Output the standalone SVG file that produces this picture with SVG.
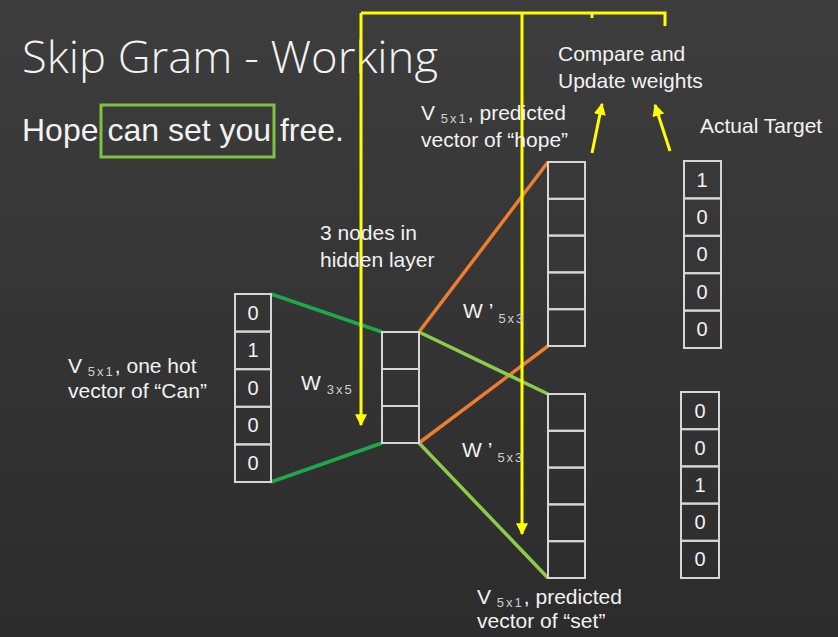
<svg xmlns="http://www.w3.org/2000/svg" width="838" height="637" viewBox="0 0 838 637">
<defs>
<linearGradient id="bg" x1="0" y1="0" x2="0" y2="1">
<stop offset="0" stop-color="#3d3d3d"/>
<stop offset="1" stop-color="#2c2c2c"/>
</linearGradient>
<marker id="ya" viewBox="0 0 10 10" refX="9" refY="5" markerWidth="4" markerHeight="4" orient="auto" markerUnits="strokeWidth">
<path d="M0,0 L10,5 L0,10 z" fill="#ffff00"/>
</marker>
<style>
text{font-family:"Liberation Sans",Arial,sans-serif;fill:#f2f2f2}
.t{font-size:21px}
.sub{font-size:13px;letter-spacing:2px;fill:#cfcfcf}
.d{font-size:20px;text-anchor:middle}
.cell{fill:none;stroke:#d6d6d6;stroke-width:2}
.y{stroke:#ffff00;stroke-width:3;fill:none}
.dg{stroke:#1fa84a;stroke-width:3.5}
.lg{stroke:#8fcb4a;stroke-width:3.5}
.or{stroke:#ee7d31;stroke-width:3.5}
</style>
</defs>
<rect width="838" height="637" fill="url(#bg)"/>

<g id="title">
<text x="22" y="73" style="font-family:'Open Sans','Liberation Sans',sans-serif;font-weight:300;font-size:44px" textLength="416" lengthAdjust="spacingAndGlyphs">Skip Gram - Working</text>
</g>
<g id="sentence">
<text x="22" y="141" style="font-size:32px">Hope can set you free.</text>
<rect x="101" y="105" width="173" height="52" fill="none" stroke="#7dc242" stroke-width="3"/>
</g>

<g id="connectors">
<line class="dg" x1="271" y1="294" x2="382" y2="332"/>
<line class="dg" x1="271" y1="482" x2="382" y2="443"/>
<line class="or" x1="419" y1="332" x2="548" y2="162"/>
<line class="or" x1="419" y1="443" x2="548" y2="346"/>
<line class="lg" x1="419" y1="332" x2="548" y2="394"/>
<line class="lg" x1="419" y1="443" x2="548" y2="578"/>
<polyline class="y" points="361,13 665,13 665,26"/>
<line class="y" x1="361" y1="13" x2="361" y2="425" marker-end="url(#ya)"/>
<line class="y" x1="522" y1="13" x2="522" y2="534" marker-end="url(#ya)"/>
<line class="y" x1="592" y1="13" x2="592" y2="18"/>
<line class="y" x1="592" y1="153" x2="602" y2="104" marker-end="url(#ya)"/>
<line class="y" x1="670" y1="151" x2="655" y2="105" marker-end="url(#ya)"/>
</g>

<g id="input-vector">
<rect class="cell" x="235" y="294" width="36" height="37.6"/>
<rect class="cell" x="235" y="331.6" width="36" height="37.6"/>
<rect class="cell" x="235" y="369.2" width="36" height="37.6"/>
<rect class="cell" x="235" y="406.8" width="36" height="37.6"/>
<rect class="cell" x="235" y="444.4" width="36" height="37.6"/>
<text class="d" x="253" y="320">0</text>
<text class="d" x="253" y="357">1</text>
<text class="d" x="253" y="395">0</text>
<text class="d" x="253" y="432">0</text>
<text class="d" x="253" y="470">0</text>
</g>
<g id="input-label">
<text class="t" x="68" y="373">V <tspan class="sub" dy="3">5x1</tspan><tspan dy="-3">, one hot</tspan></text>
<text class="t" x="68" y="398">vector of “Can”</text>
</g>

<g id="hidden-layer">
<rect class="cell" x="382" y="332" width="37" height="37"/>
<rect class="cell" x="382" y="369" width="37" height="37"/>
<rect class="cell" x="382" y="406" width="37" height="37"/>
</g>
<g id="hidden-label">
<text class="t" x="320" y="240">3 nodes in</text>
<text class="t" x="320" y="267">hidden layer</text>
</g>

<g id="w-label">
<text class="t" x="301" y="390">W <tspan class="sub" dy="4">3x5</tspan></text>
</g>
<g id="w-prime-top">
<text class="t" x="463" y="318">W ’ <tspan class="sub" dy="5">5x3</tspan></text>
</g>
<g id="w-prime-bottom">
<text class="t" x="462" y="457">W ’ <tspan class="sub" dy="5">5x3</tspan></text>
</g>

<g id="output-hope">
<rect class="cell" x="548" y="162" width="37" height="36.8"/>
<rect class="cell" x="548" y="198.8" width="37" height="36.8"/>
<rect class="cell" x="548" y="235.6" width="37" height="36.8"/>
<rect class="cell" x="548" y="272.4" width="37" height="36.8"/>
<rect class="cell" x="548" y="309.2" width="37" height="36.8"/>
</g>
<g id="hope-label">
<text class="t" x="421" y="120">V <tspan class="sub" dy="3">5x1</tspan><tspan dy="-3">, predicted</tspan></text>
<text class="t" x="421" y="147">vector of “hope”</text>
</g>

<g id="output-set">
<rect class="cell" x="548" y="394" width="37" height="36.8"/>
<rect class="cell" x="548" y="430.8" width="37" height="36.8"/>
<rect class="cell" x="548" y="467.6" width="37" height="36.8"/>
<rect class="cell" x="548" y="504.4" width="37" height="36.8"/>
<rect class="cell" x="548" y="541.2" width="37" height="36.8"/>
</g>
<g id="set-label">
<text class="t" x="477" y="604">V <tspan class="sub" dy="3">5x1</tspan><tspan dy="-3">, predicted</tspan></text>
<text class="t" x="477" y="628">vector of “set”</text>
</g>

<g id="target-hope">
<rect class="cell" x="684" y="161" width="37" height="37.4"/>
<rect class="cell" x="684" y="198.4" width="37" height="37.4"/>
<rect class="cell" x="684" y="235.8" width="37" height="37.4"/>
<rect class="cell" x="684" y="273.2" width="37" height="37.4"/>
<rect class="cell" x="684" y="310.6" width="37" height="37.4"/>
<text class="d" x="702" y="187">1</text>
<text class="d" x="702" y="224">0</text>
<text class="d" x="702" y="261">0</text>
<text class="d" x="702" y="299">0</text>
<text class="d" x="702" y="336">0</text>
</g>
<g id="target-set">
<rect class="cell" x="681" y="392" width="38" height="37.2"/>
<rect class="cell" x="681" y="429.2" width="38" height="37.2"/>
<rect class="cell" x="681" y="466.4" width="38" height="37.2"/>
<rect class="cell" x="681" y="503.6" width="38" height="37.2"/>
<rect class="cell" x="681" y="540.8" width="38" height="37.2"/>
<text class="d" x="700" y="418">0</text>
<text class="d" x="700" y="455">0</text>
<text class="d" x="700" y="492">1</text>
<text class="d" x="700" y="529">0</text>
<text class="d" x="700" y="566">0</text>
</g>
<g id="target-label">
<text class="t" x="700" y="133">Actual Target</text>
</g>
<g id="compare-label">
<text class="t" x="558" y="61">Compare and</text>
<text class="t" x="558" y="88">Update weights</text>
</g>
</svg>
